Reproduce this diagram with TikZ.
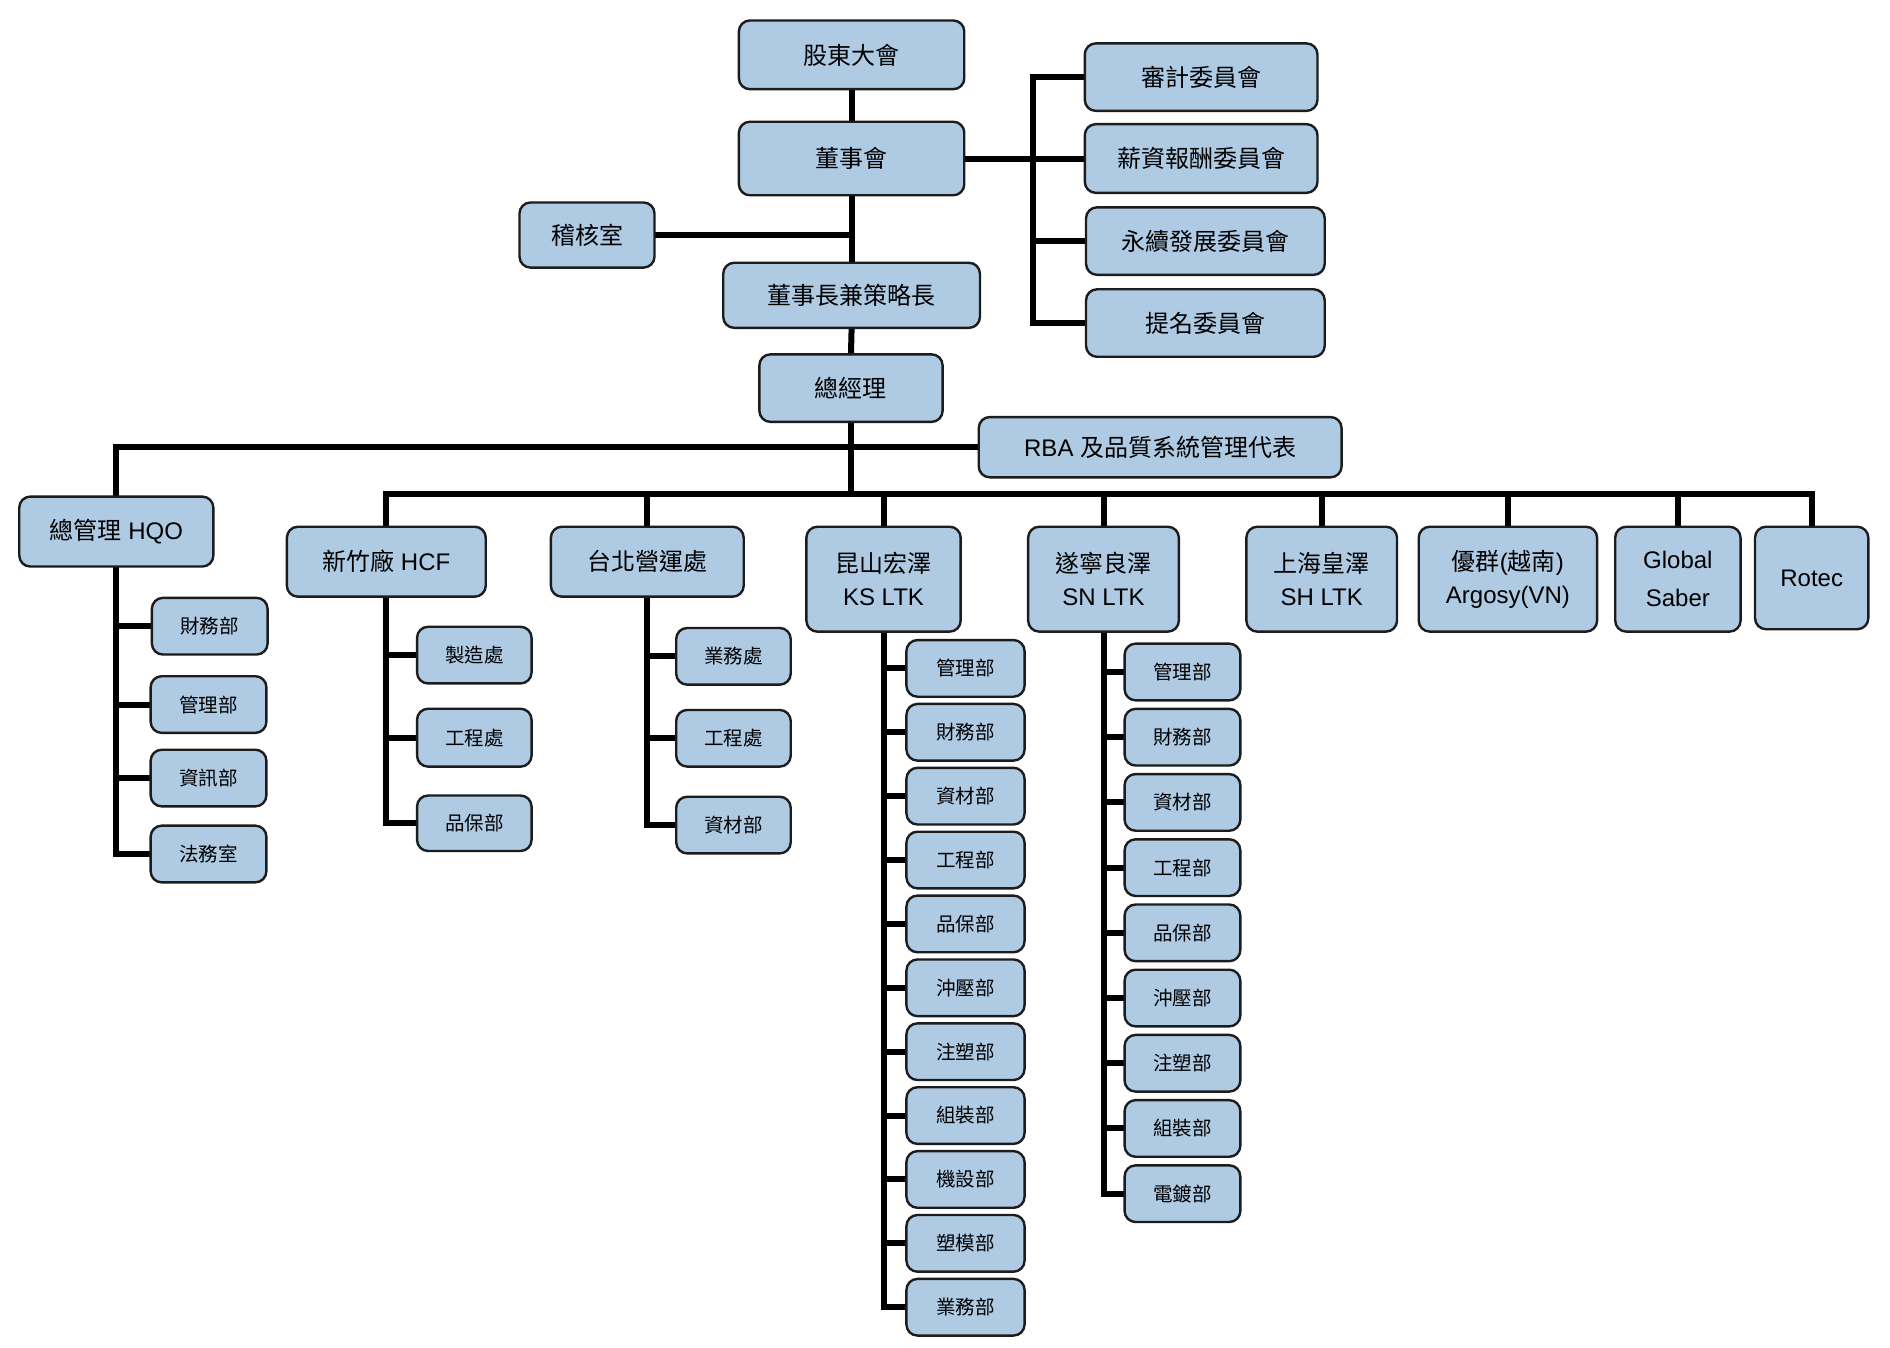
\documentclass[tikz,border=0pt]{standalone}
\usepackage{fontspec}
\setmainfont{Liberation Sans}
\newfontfamily\cjk{Noto Sans CJK TC}
\usetikzlibrary{backgrounds}
\definecolor{boxfill}{RGB}{175,203,228}
\definecolor{boxline}{RGB}{28,28,28}
\newcommand\C[1]{{\cjk #1}}
\newcommand\bx[7][]{%
  \pgfmathsetmacro\bcx{(#3+#5)/2}\pgfmathsetmacro\bcy{(#4+#6)/2}%
  \pgfmathsetmacro\bw{(#5-#3)*1.2054}\pgfmathsetmacro\bh{(#6-#4)*1.2054}%
  \node[box,#1,minimum width=\bw pt,minimum height=\bh pt] (#2) at (\bcx,\bcy) {#7};}
\begin{document}
\begin{tikzpicture}[x=1.2054pt,y=-1.2054pt,
  box/.style={draw=boxline,fill=boxfill,line width=2.4pt,rounded corners=11pt,inner sep=0pt,align=center,anchor=center,font=\fontsize{24}{33}\selectfont},
  small/.style={font=\fontsize{19.5}{24}\selectfont},
  conn/.style={line width=6pt,black,line cap=rect}]
\useasboundingbox (0,0) rectangle (1568,1118);
% top
\bx{gd}{613}{17}{800}{74}{\C{股東大會}}
\bx{dsh}{613}{101}{800}{162}{\C{董事會}}
\bx{jh}{431}{168}{543}{222}{\C{稽核室}}
\bx{dsc}{600}{218}{813}{272}{\C{董事長兼策略長}}
\bx{zjl}{630}{294}{782}{350}{\C{總經理}}
\bx{sj}{900}{36}{1093}{92}{\C{審計委員會}}
\bx{xz}{900}{103}{1093}{160}{\C{薪資報酬委員會}}
\bx{yx}{901}{172}{1099}{228}{\C{永續發展委員會}}
\bx{tm}{901}{240}{1099}{296}{\C{提名委員會}}
\bx{rba}{812}{346}{1113}{396}{RBA \C{及品質系統管理代表}}
% level 2
\bx{hqo}{16}{412}{177}{470}{\C{總管理} HQO}
\bx{hcf}{238}{437}{403}{495}{\C{新竹廠} HCF}
\bx{tb}{457}{437}{617}{495}{\C{台北營運處}}
\bx{ks}{669}{437}{797}{524}{\C{昆山宏澤}\\KS LTK}
\bx{sn}{853}{437}{978}{524}{\C{遂寧良澤}\\SN LTK}
\bx{sh}{1034}{437}{1159}{524}{\C{上海皇澤}\\SH LTK}
\bx{ag}{1177}{437}{1325}{524}{\C{優群}(\C{越南})\\Argosy(VN)}
\bx[font=\fontsize{24}{38}\selectfont]{gs}{1340}{437}{1444}{524}{Global\\Saber}
\bx{rt}{1456}{437}{1550}{522}{Rotec}
% HQO children
\bx[small]{h1}{126}{496}{222}{543}{\C{財務部}}
\bx[small]{h2}{125}{561}{221}{608}{\C{管理部}}
\bx[small]{h3}{125}{622}{221}{669}{\C{資訊部}}
\bx[small]{h4}{125}{685}{221}{732}{\C{法務室}}
% HCF children
\bx[small]{c1}{346}{520}{441}{567}{\C{製造處}}
\bx[small]{c2}{346}{588}{441}{636}{\C{工程處}}
\bx[small]{c3}{346}{660}{441}{706}{\C{品保部}}
% Taipei children
\bx[small]{t1}{561}{521}{656}{568}{\C{業務處}}
\bx[small]{t2}{561}{589}{656}{636}{\C{工程處}}
\bx[small]{t3}{561}{661}{656}{708}{\C{資材部}}
% KS children
\foreach \t [count=\k from 0] in {管理部,財務部,資材部,工程部,品保部,沖壓部,注塑部,組裝部,機設部,塑模部,業務部}{
  \pgfmathsetmacro\ya{531+53*\k}\pgfmathsetmacro\yb{578+53*\k}
  \bx[small]{ks\k}{752}{\ya}{850}{\yb}{\C{\t}}
}
% SN children
\foreach \t [count=\k from 0] in {管理部,財務部,資材部,工程部,品保部,沖壓部,注塑部,組裝部,電鍍部}{
  \pgfmathsetmacro\ya{534+54.1*\k}\pgfmathsetmacro\yb{581+54.1*\k}
  \bx[small]{sn\k}{933}{\ya}{1029}{\yb}{\C{\t}}
}
\coordinate (cb) at (857,131);
\coordinate (bus) at (706,410);
\begin{scope}[on background layer]
  \fill[white] (0,0) rectangle (1568,1118);
  \draw[conn] (gd.south) -- (dsh.north);
  \draw[conn] (dsh.south) -- (dsc.north);
  \draw[conn] (dsc.south) -- (zjl.north);
  \draw[conn] (jh.east) -- (jh.east -| dsh.south);
  \draw[conn] (dsh.east) -- (xz.west);
  \draw[conn] (sj.west) -- (sj.west -| cb) -- (tm.west -| cb) -- (tm.west);
  \draw[conn] (yx.west -| cb) -- (yx.west);
  \draw[conn] (zjl.south) -- (zjl.south |- bus);
  \draw[conn] (hqo.north) -- (hqo.north |- rba.west) -- (rba.west);
  \draw[conn] (hcf.north |- bus) -- (rt.north |- bus);
  \foreach \n in {hcf,tb,ks,sn,sh,ag,gs,rt}{\draw[conn] (\n.north |- bus) -- (\n.north);}
  % HQO
  \draw[conn] (hqo.south) -- (hqo.south |- h4.west) -- (h4.west);
  \foreach \n in {h1,h2,h3}{\draw[conn] (\n.west -| hqo.south) -- (\n.west);}
  % HCF
  \draw[conn] (hcf.south) -- (hcf.south |- c3.west) -- (c3.west);
  \foreach \n in {c1,c2}{\draw[conn] (\n.west -| hcf.south) -- (\n.west);}
  % TB
  \draw[conn] (tb.south) -- (tb.south |- t3.west) -- (t3.west);
  \foreach \n in {t1,t2}{\draw[conn] (\n.west -| tb.south) -- (\n.west);}
  % KS
  \draw[conn] (ks.south) -- (ks.south |- ks10.west) -- (ks10.west);
  \foreach \k in {0,...,9}{\draw[conn] (ks\k.west -| ks.south) -- (ks\k.west);}
  % SN
  \draw[conn] (sn.south) -- (sn.south |- sn8.west) -- (sn8.west);
  \foreach \k in {0,...,7}{\draw[conn] (sn\k.west -| sn.south) -- (sn\k.west);}
\end{scope}
\end{tikzpicture}
\end{document}
